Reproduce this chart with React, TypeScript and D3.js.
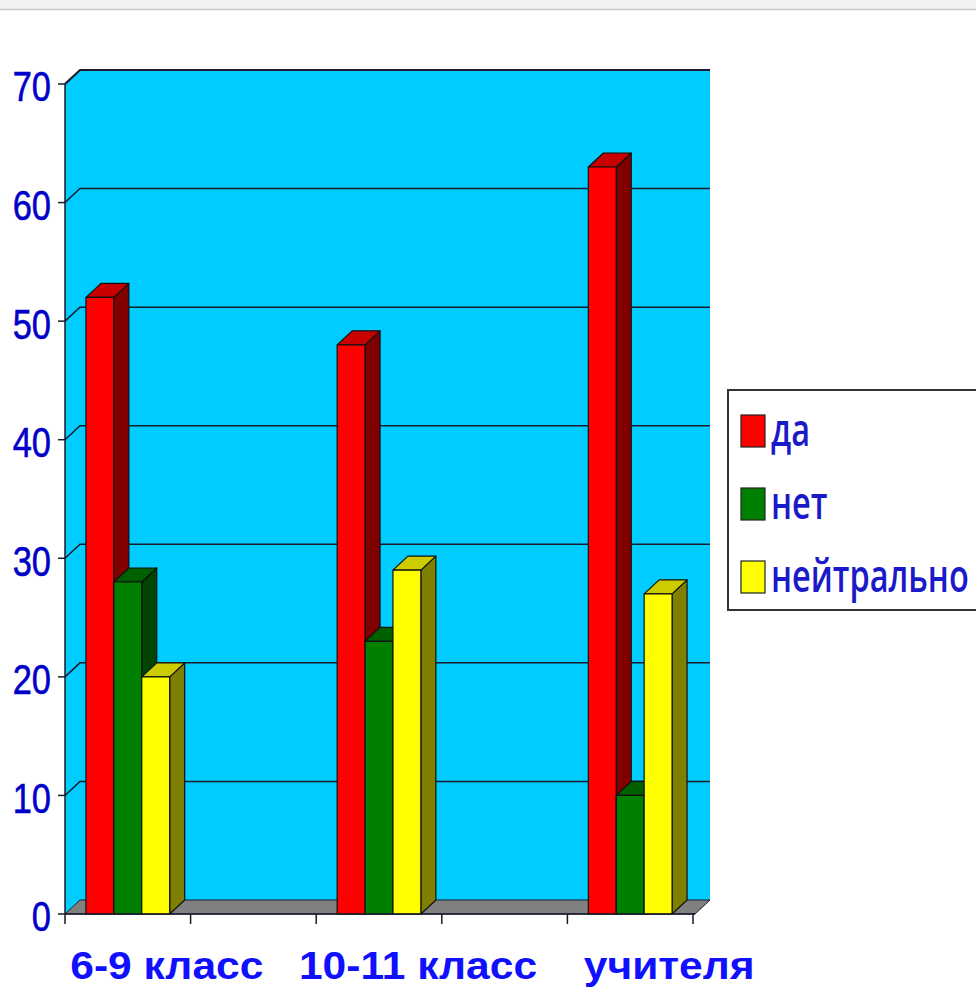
import React from "react";
import * as d3 from "d3";

const slots = ["6-9 класс", "", "10-11 класс", "", "учителя"];
const categories = ["6-9 класс", "10-11 класс", "учителя"];
const categorySlot = [0, 2, 4];
const seriesNames = ["да", "нет", "нейтрально"];
const daValues = [52, 48, 63];
const netValues = [28, 23, 10];
const neutralValues = [20, 29, 27];
const yTicks = [0, 10, 20, 30, 40, 50, 60, 70];

const seriesValues = [daValues, netValues, neutralValues];
const frontColors = ["#ff0000", "#008000", "#ffff00"];
const sideColors = ["#800000", "#004600", "#808000"];
const topColors = ["#c80000", "#006000", "#cccc00"];

const W = 976;
const H = 989;
const X0 = 65;
const X1 = 693;
const Y0 = 914;
const Y1 = 84;
const DX = 15;
const DY = 14;

export default function App() {
  const y = d3.scaleLinear().domain([0, 70]).range([Y0, Y1]);
  const x = d3.scaleBand<number>().domain(d3.range(slots.length)).range([X0, X1]).padding(0);
  const inner = d3
    .scaleBand<string>()
    .domain(seriesNames)
    .range([0, x.bandwidth()])
    .paddingInner(0)
    .paddingOuter(0.75);
  const bw = inner.bandwidth();
  const tickXs = d3.range(slots.length + 1).map((i) => X0 + i * x.step());
  const pt = (a: [number, number][]) => a.map((p) => p.join(",")).join(" ");
  const cyan = "#00ccff";
  const line = "#1a1a2a";
  const legendY = d3.scalePoint<string>().domain(seriesNames).range([446, 592]);

  return (
    <svg
      width={W}
      height={H}
      style={{ position: "absolute", left: 0, top: 0, background: "#fff" }}
    >
      <rect x={0} y={0} width={W} height={9} fill="#f2f2f2" />
      <line x1={0} x2={W} y1={9.5} y2={9.5} stroke="#c8c8c8" strokeWidth={1.5} />

      {/* side wall */}
      <polygon
        points={pt([
          [X0, Y0],
          [X0, Y1],
          [X0 + DX, Y1 - DY],
          [X0 + DX, Y0 - DY],
        ])}
        fill={cyan}
      />
      {/* back wall */}
      <rect
        x={X0 + DX}
        y={Y1 - DY}
        width={X1 + DX - (X0 + DX) + 2}
        height={Y0 - Y1}
        fill={cyan}
      />
      {/* gridlines */}
      {yTicks
        .filter((v) => v > 0)
        .map((v) => (
          <polyline
            key={v}
            points={pt([
              [X0, y(v)],
              [X0 + DX, y(v) - DY],
              [X1 + DX + 2, y(v) - DY],
            ])}
            fill="none"
            stroke={line}
            strokeWidth={v === 70 ? 2.2 : 1.5}
          />
        ))}
      {/* floor */}
      <polygon
        points={pt([
          [X0, Y0],
          [X1 + 2, Y0],
          [X1 + 2 + DX, Y0 - DY],
          [X0 + DX, Y0 - DY],
        ])}
        fill="#808080"
        stroke={line}
        strokeWidth={1}
      />
      {/* bars */}
      {categories.map((c, ci) =>
        seriesNames.map((s, si) => {
          const v = seriesValues[si][ci];
          const bx = (x(categorySlot[ci]) ?? 0) + (inner(s) ?? 0);
          const by = y(v);
          return (
            <g key={c + s} stroke="#111" strokeWidth={1.2} strokeLinejoin="round">
              <polygon
                points={pt([
                  [bx + bw, Y0],
                  [bx + bw, by],
                  [bx + bw + DX, by - DY],
                  [bx + bw + DX, Y0 - DY],
                ])}
                fill={sideColors[si]}
              />
              <polygon
                points={pt([
                  [bx, by],
                  [bx + DX, by - DY],
                  [bx + bw + DX, by - DY],
                  [bx + bw, by],
                ])}
                fill={topColors[si]}
              />
              <rect x={bx} y={by} width={bw} height={Y0 - by} fill={frontColors[si]} />
            </g>
          );
        })
      )}
      {/* axes */}
      <line x1={X0} x2={X0} y1={Y1} y2={Y0} stroke={line} strokeWidth={1.5} />
      <line x1={X0} x2={X1 + 2} y1={Y0} y2={Y0} stroke={line} strokeWidth={1.5} />
      {yTicks.map((v) => (
        <g key={v}>
          <line x1={X0 - 7} x2={X0} y1={y(v)} y2={y(v)} stroke={line} strokeWidth={1.5} />
          <text
            x={0}
            y={0}
            dy="0.36em"
            textAnchor="end"
            fill="#0000c8"
            stroke="#0000c8"
            strokeWidth={0.6}
            fontFamily="'Liberation Sans', Arial, sans-serif"
            fontSize={43}
            transform={`translate(${X0 - 14},${y(v) + 2}) scale(0.8,1)`}
          >
            {v}
          </text>
        </g>
      ))}
      {tickXs.map((tx, i) => (
        <line key={i} x1={tx} x2={tx} y1={Y0} y2={Y0 + 10} stroke={line} strokeWidth={1.5} />
      ))}
      {/* category labels */}
      {categories.map((c, ci) => (
        <text
          key={c}
          x={0}
          y={0}
          textAnchor="middle"
          fill="#1010ff"
          fontFamily="'Liberation Sans', Arial, sans-serif"
          fontWeight="bold"
          fontSize={38}
          transform={`translate(${(x(categorySlot[ci]) ?? 0) + x.bandwidth() / 2 + 39},979) scale(1.12,1)`}
        >
          {c}
        </text>
      ))}
      {/* legend */}
      <rect x={728} y={390} width={260} height={220} fill="#fff" stroke="#333" strokeWidth={2} />
      {seriesNames.map((s, si) => (
        <g key={s}>
          <rect
            x={741}
            y={(legendY(s) ?? 0) - 31}
            width={24}
            height={32}
            fill={frontColors[si]}
            stroke="#222"
            strokeWidth={1.2}
          />
          <text
            x={0}
            y={0}
            fill="#1a1ac8"
            fontFamily="'Open Sans', 'Noto Sans', sans-serif"
            fontWeight={600}
            fontSize={32.5}
            transform={`translate(771,${legendY(s) ?? 0}) scale(1,1.38)`}
          >
            {s}
          </text>
        </g>
      ))}
    </svg>
  );
}
